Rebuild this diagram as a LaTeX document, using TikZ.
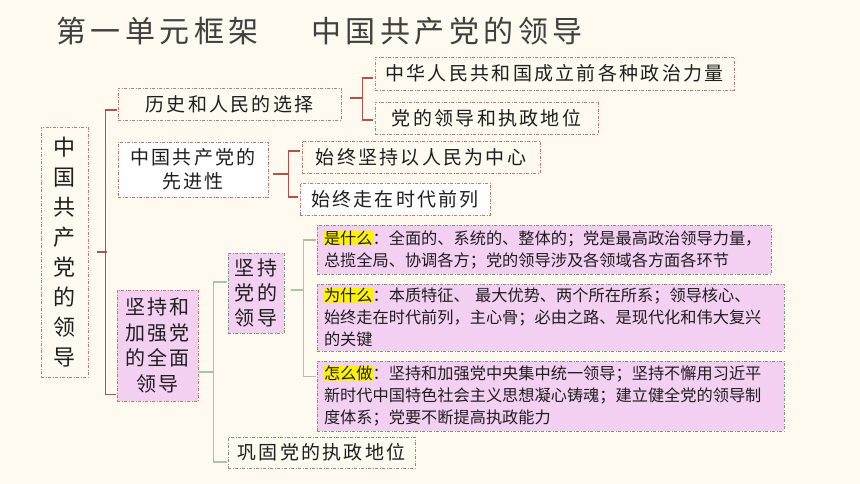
\documentclass[tikz,border=0pt]{standalone}
\usepackage{fontspec}
\setmainfont{Noto Sans CJK SC}
\newfontfamily\wideCJK[LetterSpace=12]{Noto Sans CJK SC}
\newfontfamily\titleCJK[LetterSpace=15]{Noto Sans CJK SC}
\definecolor{bgcream}{RGB}{254,250,239}
\definecolor{linered}{RGB}{180,82,72}
\definecolor{boxred}{RGB}{196,120,112}
\definecolor{linegreen}{RGB}{165,196,168}
\definecolor{boxgreen}{RGB}{118,150,128}
\definecolor{pinkfill}{RGB}{243,208,242}
\definecolor{txtgray}{RGB}{30,30,30}
\definecolor{titlegray}{RGB}{64,64,64}
\newcommand{\yel}[1]{{\setlength{\fboxsep}{0pt}\colorbox{yellow}{#1}}}

\begin{document}
\begin{tikzpicture}[x=1pt, y=-1pt,
    dashdot/.style={dash pattern=on 3pt off 1.5pt on 1pt off 1.5pt, line width=0.8pt},
    redbox/.style={draw=boxred, dashdot, inner sep=0pt, text=txtgray},
    greenbox/.style={draw=boxgreen, dashdot, inner sep=0pt, text=txtgray},
    redline/.style={draw=linered, line width=1.3pt},
    greenline/.style={draw=linegreen, line width=1.3pt},
    big/.style={font=\wideCJK\fontsize{19}{24}\selectfont},
    small/.style={font=\fontsize{16.2}{22}\selectfont, align=left, inner xsep=7pt},
  ]

    % 背景
    \fill [bgcream] (0,0) rectangle (860,484);
    \useasboundingbox (0,0) rectangle (860,484);

    % 标题
    \node [anchor=west, inner sep=0pt, text=titlegray, font=\titleCJK\fontsize{30}{34}\selectfont] (t1) at (56,31) {第一单元框架};
    \node [anchor=west, inner sep=0pt, text=titlegray, font=\titleCJK\fontsize{30}{34}\selectfont] (t2) at (311,31) {中国共产党的领导};

    % 根
    \node [redbox, minimum width=47, minimum height=250, align=center, font=\fontsize{22}{30}\selectfont] (root) at (64.5,252) {中\\国\\共\\产\\党\\的\\领\\导};

    % 第一层
    \node [redbox, big, minimum width=223, minimum height=32] (hist) at (229.5,104) {历史和人民的选择};
    \node [redbox, big, fill=white, minimum width=150, minimum height=55, align=center] (adv) at (193,169.5) {中国共产党的\\先进性};
    \node [redbox, fill=pinkfill, minimum width=81, minimum height=111, align=center, font=\wideCJK\fontsize{20}{25.5}\selectfont] (lead) at (157.5,345.5) {坚持和\\加强党\\的全面\\领导};

    % 历史和人民的选择
    \node [redbox, big, minimum width=359, minimum height=33] (prc) at (554.5,73.5) {中华人民共和国成立前各种政治力量};
    \node [redbox, big, minimum width=223, minimum height=32] (ldr) at (486.5,118) {党的领导和执政地位};

    % 先进性
    \node [redbox, big, minimum width=238, minimum height=32] (keep) at (421,157) {始终坚持以人民为中心};
    \node [redbox, big, fill=white, minimum width=190, minimum height=32] (front) at (395,199) {始终走在时代前列};

    % 全面领导
    \node [greenbox, fill=pinkfill, minimum width=56, minimum height=80, align=center, font=\wideCJK\fontsize{20}{25}\selectfont] (jc) at (256,293) {坚持\\党的\\领导};
    \node [greenbox, big, minimum width=187, minimum height=31] (gg) at (321.5,452.5) {巩固党的执政地位};

    % 是什么 为什么 怎么做
    \node [greenbox, fill=pinkfill, small, text width=440, minimum height=49] (what) at (544,249.5) {\yel{是什么}：全面的、系统的、整体的；党是最高政治领导力量，\\总揽全局、协调各方；党的领导涉及各领域各方面各环节};
    \node [greenbox, fill=pinkfill, small, text width=453, minimum height=67] (why) at (550.5,317.5) {\yel{为什么}：本质特征、 最大优势、两个所在所系；领导核心、\\始终走在时代前列，主心骨；必由之路、是现代化和伟大复兴\\的关键};
    \node [greenbox, fill=pinkfill, small, text width=453, minimum height=70] (how) at (550.5,396) {\yel{怎么做}：坚持和加强党中央集中统一领导；坚持不懈用习近平\\新时代中国特色社会主义思想凝心铸魂；建立健全党的领导制\\度体系；党要不断提高执政能力};

    % 连线(红)
    \draw [redline] ([xshift=9pt]root.east) -- ++(10,0);
    \draw [redline] ([xshift=-1pt,yshift=-6pt]hist.west) -| ([xshift=-11pt]lead.west) |- ([xshift=-1pt,yshift=7pt]lead.south west);
    \draw [redline] ([xshift=9pt,yshift=6pt]hist.east) -- ++(12,0) coordinate (hsp);
    \draw [redline] ([xshift=-2pt,yshift=-4.5pt]prc.west) -| (hsp) |- ([xshift=-2pt,yshift=-2pt]ldr.west);
    \draw [redline] ([xshift=5pt,yshift=-4.5pt]adv.east) -- ++(15,0) coordinate (asp);
    \draw [redline] ([xshift=-2pt,yshift=6pt]keep.west) -| (asp) |- ([xshift=-2pt,yshift=2pt]front.west);

    % 连线(绿)
    \draw [greenline] ([yshift=-26.5pt]lead.east) -- ++(15,0) coordinate (lsp);
    \draw [greenline] ([xshift=-1pt,yshift=11pt]jc.west) -| (lsp) |- ([xshift=-1pt,yshift=-9.5pt]gg.west);
    \draw [greenline] ([xshift=7pt,yshift=3pt]jc.east) -- ++(12,0) coordinate (jsp);
    \draw [greenline] ([xshift=-1pt,yshift=-15.5pt]what.north west) -| (jsp) |- ([xshift=-1pt,yshift=-16pt]how.north west);

\end{tikzpicture}
\end{document}
